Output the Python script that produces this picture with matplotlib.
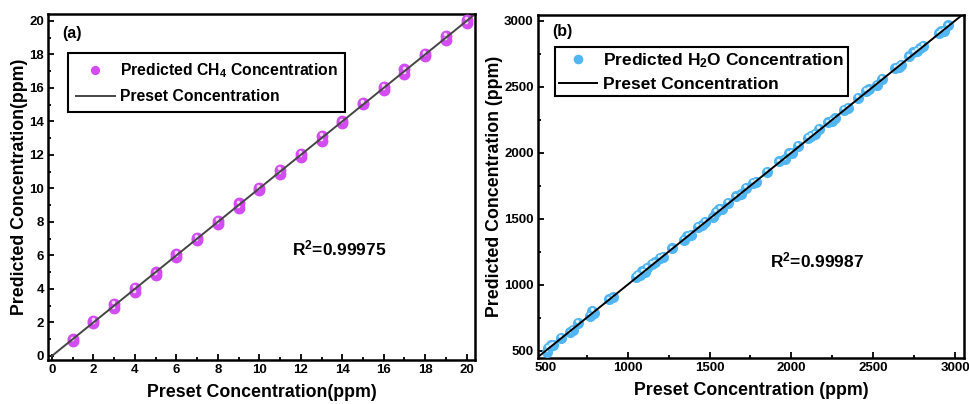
import matplotlib
matplotlib.use("Agg")
import matplotlib.pyplot as plt
import matplotlib.transforms as mtransforms
from matplotlib.ticker import MultipleLocator

plt.rcParams['font.family'] = ['Liberation Sans', 'DejaVu Sans']
plt.rcParams['font.weight'] = 'bold'
plt.rcParams['axes.labelweight'] = 'bold'
plt.rcParams['mathtext.fontset'] = 'custom'
plt.rcParams['mathtext.rm'] = 'Liberation Sans:bold'
plt.rcParams['mathtext.bf'] = 'Liberation Sans:bold'
plt.rcParams['mathtext.default'] = 'bf'

# (a) CH4: two repeated measurements at each preset level
ch4_preset = [1, 1, 2, 2, 3, 3, 4, 4, 5, 5, 6, 6, 7, 7, 8, 8, 9, 9, 10, 10,
              11, 11, 12, 12, 13, 13, 14, 14, 15, 15, 16, 16, 17, 17, 18, 18,
              19, 19, 20, 20]
ch4_pred = [1.0, 0.92, 2.1, 1.95, 3.1, 2.85, 4.05, 3.8, 5.0, 4.85, 6.1, 5.9,
            7.05, 6.9, 8.05, 7.9, 9.1, 8.85, 10.02, 9.92, 11.1, 10.85,
            12.08, 11.9, 13.15, 12.85, 14.0, 13.92, 15.1, 15.05, 16.08, 15.9,
            17.1, 16.85, 18.05, 17.92, 19.12, 18.85, 20.05, 19.85]

# (b) H2O
h2o_preset = [505, 515, 530, 545, 590, 645, 665, 695, 770, 785, 795, 885, 910,
              1050, 1062, 1075, 1090, 1105, 1120, 1150, 1165, 1195, 1215, 1270,
              1345, 1365, 1385, 1430, 1455, 1470, 1520, 1540, 1560, 1575, 1610,
              1660, 1690, 1720, 1765, 1785, 1850, 1925, 1960, 1985, 2005, 2040,
              2100, 2120, 2145, 2170, 2225, 2245, 2265, 2320, 2345, 2405, 2455,
              2475, 2520, 2555, 2635, 2655, 2670, 2720, 2745, 2765, 2785, 2805,
              2900, 2915, 2930, 2955]
h2o_pred = [490, 520, 540, 545, 595, 640, 660, 710, 765, 800, 785, 890, 905,
            1060, 1075, 1070, 1100, 1095, 1130, 1160, 1170, 1205, 1210, 1275,
            1340, 1370, 1380, 1440, 1450, 1475, 1510, 1550, 1575, 1570, 1620,
            1670, 1685, 1735, 1770, 1780, 1855, 1935, 1950, 1995, 2000, 2050,
            2110, 2125, 2140, 2180, 2230, 2240, 2260, 2325, 2340, 2415, 2470,
            2480, 2515, 2560, 2640, 2650, 2665, 2730, 2760, 2770, 2790, 2810,
            2905, 2920, 2925, 2965]

fig = plt.figure(figsize=(9.69, 4.04), dpi=100)
ax1 = fig.add_axes([0.0495, 0.109, 0.4405, 0.856])
ax2 = fig.add_axes([0.555, 0.114, 0.440, 0.849])


def sphere(ax, x, y, color, hl, size, label):
    ax.plot(x, y, 'o', ls='none', ms=size, color=color, mec=color, label=label, zorder=3)
    off = mtransforms.offset_copy(ax.transData, fig=fig, x=-0.6, y=1.2, units='points')
    ax.plot(x, y, 'o', ls='none', ms=size * 0.35, color=hl, mec='none',
            transform=off, zorder=4)


def style(ax):
    for s in ax.spines.values():
        s.set_linewidth(1.8)
    ax.tick_params(which='both', direction='in', width=1.3, labelsize=9.5,
                   top=False, right=False)
    ax.tick_params(which='major', length=4, pad=3)
    ax.tick_params(which='minor', length=2)
    for t in ax.get_xticklabels() + ax.get_yticklabels():
        t.set_fontweight('bold')


# panel (a)
sphere(ax1, ch4_preset, ch4_pred, '#d24cf2', '#f4d2fb', 7.5,
       'Predicted CH$_4$ Concentration')
ax1.plot([0, 20.3], [0, 20.3], color='#454545', lw=1.4, label='Preset Concentration',
         zorder=5)
ax1.set_xlim(-0.19, 20.39)
ax1.set_ylim(-0.24, 20.4)
ax1.xaxis.set_major_locator(MultipleLocator(2))
ax1.xaxis.set_minor_locator(MultipleLocator(1))
ax1.yaxis.set_major_locator(MultipleLocator(2))
ax1.yaxis.set_minor_locator(MultipleLocator(1))
style(ax1)
ax1.set_xlabel('Preset Concentration(ppm)', fontsize=12.8, fontweight='bold', labelpad=6)
ax1.set_ylabel('Predicted Concentration(ppm)', fontsize=12.8, fontweight='bold', labelpad=1)
ax1.text(0.48, 19.26, '(a)', fontsize=11.5, fontweight='bold', va='center')
ax1.text(11.57, 6.44, 'R$^2$=0.99975', fontsize=12.5, fontweight='bold', va='center')
leg = ax1.legend(loc='upper left', bbox_to_anchor=(0.047, 0.887),
                 prop={'size': 11.3, 'weight': 'bold'}, markerscale=0.75,
                 frameon=True, fancybox=False, edgecolor='black', framealpha=1,
                 handlelength=2.5, handletextpad=0.3, borderpad=0.5,
                 labelspacing=0.6, borderaxespad=0)
leg.get_frame().set_linewidth(1.5)

# panel (b)
sphere(ax2, h2o_preset, h2o_pred, '#52b6f3', '#d8f0ff', 7,
       'Predicted H$_2$O Concentration')
ax2.plot([451, 3055], [451, 3055], color='black', lw=1.4, label='Preset Concentration',
         zorder=5)
ax2.set_xlim(451, 3055)
ax2.set_ylim(445, 3043)
ax2.xaxis.set_major_locator(MultipleLocator(500))
ax2.xaxis.set_minor_locator(MultipleLocator(250))
ax2.yaxis.set_major_locator(MultipleLocator(500))
ax2.yaxis.set_minor_locator(MultipleLocator(250))
style(ax2)
ax2.set_xlabel('Preset Concentration (ppm)', fontsize=12.8, fontweight='bold', labelpad=6)
ax2.set_ylabel('Predicted Concentration (ppm)', fontsize=12.8, fontweight='bold', labelpad=1)
ax2.text(537, 2914, '(b)', fontsize=11.5, fontweight='bold', va='center')
ax2.text(1869, 1180, 'R$^2$=0.99987', fontsize=12.5, fontweight='bold', va='center')
leg = ax2.legend(loc='upper left', bbox_to_anchor=(0.04, 0.907),
                 prop={'size': 12.5, 'weight': 'bold'}, markerscale=0.85,
                 frameon=True, fancybox=False, edgecolor='black', framealpha=1,
                 handlelength=2.2, handletextpad=0.3, borderpad=0.25,
                 labelspacing=0.4, borderaxespad=0)
leg.get_frame().set_linewidth(1.5)

fig.savefig('out.png', dpi=100)
